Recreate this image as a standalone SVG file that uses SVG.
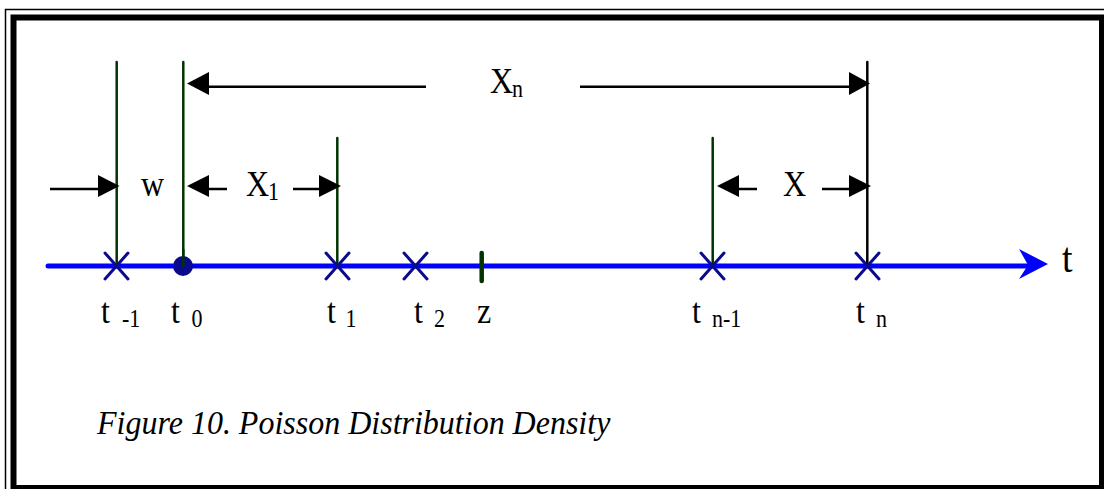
<svg xmlns="http://www.w3.org/2000/svg" width="1104" height="489" viewBox="0 0 1104 489">
<style>
.lbl{font-family:"Liberation Serif","Times New Roman",serif;font-size:32px;fill:#000}
.sub{font-family:"Liberation Serif","Times New Roman",serif;font-size:22px;fill:#000}
.cap{font-family:"Liberation Serif","Times New Roman",serif;font-size:32px;font-style:italic;fill:#000}
.ev{stroke:#003300;stroke-width:2.5;stroke-linecap:round}
.cross{stroke:#0a0a8c;stroke-width:3;stroke-linecap:round;fill:none}
.dim{stroke:#000;stroke-width:2.5;fill:none}
.head{fill:#000}
</style>
<rect x="0" y="0" width="1104" height="489" fill="#fff"/>
<g id="frame">
<rect x="5.5" y="9.5" width="1110" height="490" fill="none" stroke="#000" stroke-width="1.5"/>
<rect x="13.5" y="17.5" width="1088.5" height="470.5" fill="none" stroke="#000" stroke-width="6"/>
</g>
<g id="axis">
<line x1="48" y1="266" x2="1028" y2="266" stroke="#0000ff" stroke-width="5" stroke-linecap="round"/>
<polygon points="1048,264 1019,249 1028,265 1019,279" fill="#0000ff"/>
<text class="lbl" transform="translate(1062,272) scale(1,1.1)" style="font-size:38px">t</text>
</g>
<g id="connectors">
<line class="ev" x1="116.7" y1="62" x2="116.7" y2="266"/>
<line class="ev" x1="183.3" y1="62" x2="183.3" y2="266"/>
<line class="ev" x1="337.3" y1="138" x2="337.3" y2="266"/>
<line class="ev" x1="712.7" y1="138" x2="712.7" y2="266"/>
<line x1="867.3" y1="62" x2="867.3" y2="266" stroke="#000" stroke-width="2.5" stroke-linecap="round"/>
<line x1="481.7" y1="253" x2="481.7" y2="281" stroke="#003300" stroke-width="4.5" stroke-linecap="round"/>
<line class="dim" x1="205" y1="86.7" x2="426" y2="86.7"/>
<line class="dim" x1="580" y1="86.7" x2="852" y2="86.7"/>
<polygon class="head" points="187,83.5 209,72 209,95"/>
<polygon class="head" points="870,83.5 849,72 849,95"/>
<line class="dim" x1="50" y1="189" x2="101" y2="189"/>
<polygon class="head" points="119.5,186 98,175 98,197"/>
<polygon class="head" points="187,186 209,175 209,197"/>
<line class="dim" x1="205" y1="189" x2="227" y2="189"/>
<line class="dim" x1="293" y1="189" x2="322" y2="189"/>
<polygon class="head" points="341,186 319,175 319,197"/>
<polygon class="head" points="717,186 739,175 739,197"/>
<line class="dim" x1="736" y1="189" x2="757" y2="189"/>
<line class="dim" x1="822" y1="189" x2="852" y2="189"/>
<polygon class="head" points="871,186 849,175 849,197"/>
</g>
<g id="events">
<g id="t-1"><path class="cross" d="M105,253 L128,279 M128,253 L105,279"/></g>
<g id="t0"><circle cx="183" cy="266" r="10" fill="#0a0a8c"/><line class="ev" x1="183.3" y1="250" x2="183.3" y2="266"/></g>
<g id="t1"><path class="cross" d="M326,253 L349,279 M349,253 L326,279"/></g>
<g id="t2"><path class="cross" d="M404,253 L427,279 M427,253 L404,279"/></g>
<g id="tn-1"><path class="cross" d="M701,253 L724,279 M724,253 L701,279"/></g>
<g id="tn"><path class="cross" d="M856,253 L879,279 M879,253 L856,279"/></g>
</g>
<g id="labels">
<text class="lbl" transform="translate(101,323) scale(1,1.1)">t</text><text class="sub" transform="translate(122,327) scale(1,1.1)">-1</text>
<text class="lbl" transform="translate(171,323) scale(1,1.1)">t</text><text class="sub" transform="translate(191.5,327) scale(1,1.1)">0</text>
<text class="lbl" transform="translate(327,323) scale(1,1.1)">t</text><text class="sub" transform="translate(345.5,327) scale(1,1.1)">1</text>
<text class="lbl" transform="translate(414,323) scale(1,1.1)">t</text><text class="sub" transform="translate(434,327) scale(1,1.1)">2</text>
<text class="lbl" transform="translate(477,323) scale(1,1.1)">z</text>
<text class="lbl" transform="translate(692,323) scale(1,1.1)">t</text><text class="sub" transform="translate(712,327) scale(1,1.1)">n-1</text>
<text class="lbl" transform="translate(856,323) scale(1,1.1)">t</text><text class="sub" transform="translate(876,327) scale(1,1.1)">n</text>
<text class="lbl" transform="translate(490,93) scale(1,1.1)">X</text><text class="sub" transform="translate(512,97) scale(1,1.1)">n</text>
<text class="lbl" transform="translate(141,196) scale(1,1.1)">w</text>
<text class="lbl" transform="translate(246,196) scale(1,1.1)">X</text><text class="sub" transform="translate(268,200) scale(1,1.1)">1</text>
<text class="lbl" transform="translate(783,196) scale(1,1.1)">X</text>
</g>
<g id="caption">
<text class="cap" transform="translate(97,434) scale(1,1.08)">Figure 10. Poisson Distribution Density</text>
</g>
</svg>
